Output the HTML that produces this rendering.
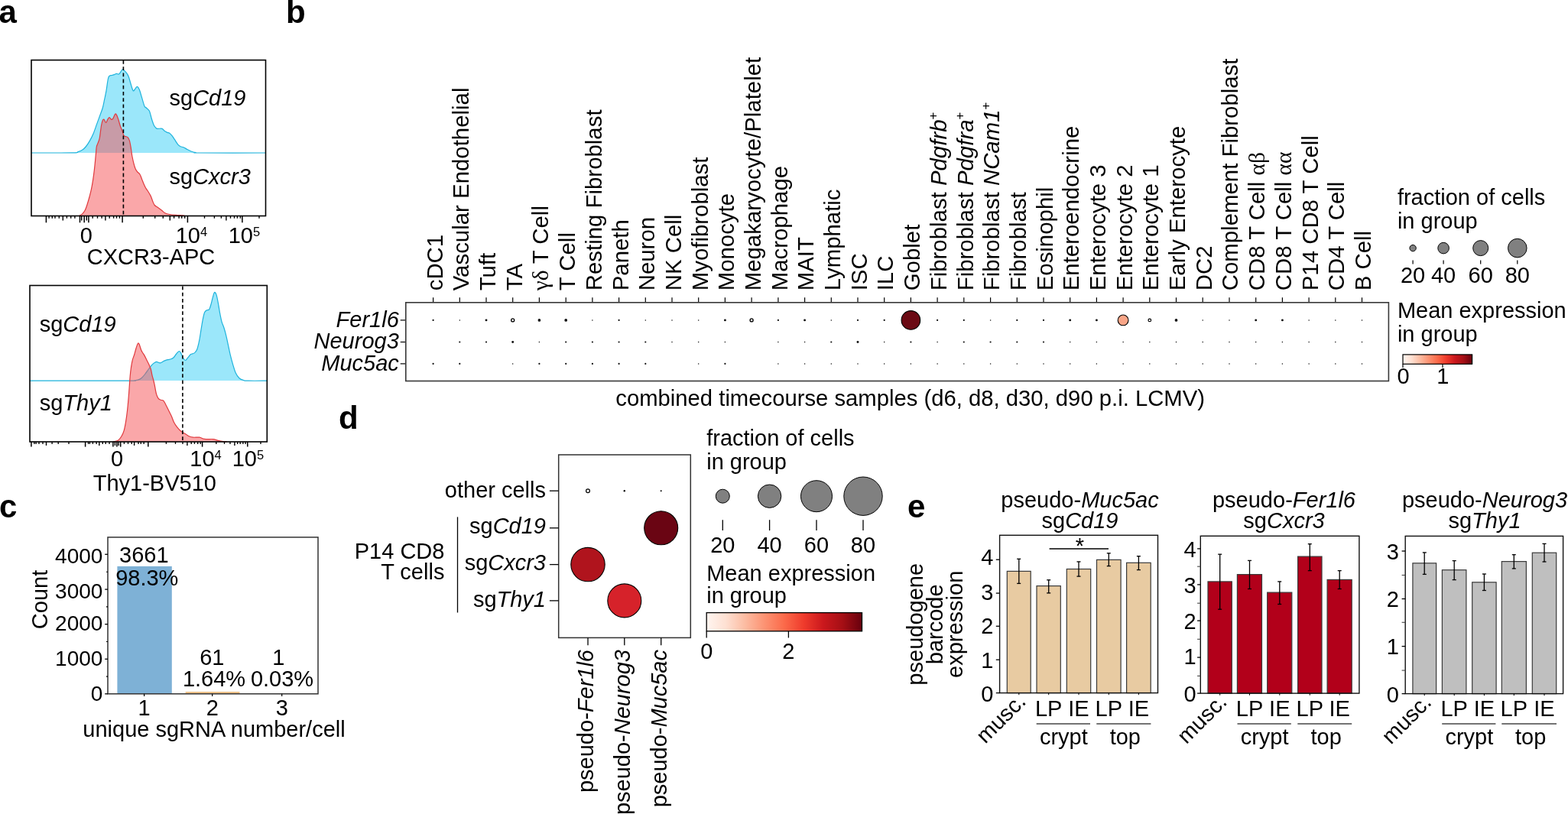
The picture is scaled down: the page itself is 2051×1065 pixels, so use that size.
<!DOCTYPE html>
<html><head><meta charset="utf-8"><title>Figure</title>
<style>
html,body{margin:0;padding:0;background:#fff;width:2051px;height:1065px;overflow:hidden}
svg{display:block}
text{font-family:"Liberation Sans",Arial,sans-serif;fill:#000}
</style></head><body>
<svg width="2051" height="1065" viewBox="0 0 2051 1065">
<rect width="2051" height="1065" fill="#fff"/>
<text x="-1.5" y="30.0" font-size="42" font-weight="bold">a</text>
<text x="374.0" y="29.6" font-size="42" font-weight="bold">b</text>
<text x="-1.0" y="677.0" font-size="42" font-weight="bold">c</text>
<text x="443.0" y="560.5" font-size="42" font-weight="bold">d</text>
<text x="1187.0" y="677.0" font-size="42" font-weight="bold">e</text>
<path d="M40.80,200.00 C49.83,199.97 84.80,200.02 95.00,199.80 C105.20,199.58 99.85,199.32 102.00,198.70 C104.15,198.08 106.13,197.30 107.90,196.10 C109.67,194.90 111.03,193.45 112.60,191.50 C114.17,189.55 115.73,187.15 117.30,184.40 C118.87,181.65 120.43,178.72 122.00,175.00 C123.57,171.28 125.13,166.40 126.70,162.10 C128.27,157.80 130.13,152.72 131.40,149.20 C132.67,145.68 133.43,144.13 134.30,141.00 C135.17,137.87 135.82,134.12 136.60,130.40 C137.38,126.68 138.22,123.18 139.00,118.70 C139.78,114.22 140.62,106.72 141.30,103.50 C141.98,100.28 142.22,100.23 143.10,99.40 C143.98,98.57 145.52,98.80 146.60,98.50 C147.68,98.20 148.62,97.95 149.60,97.60 C150.58,97.25 151.53,96.50 152.50,96.40 C153.47,96.30 154.52,97.38 155.40,97.00 C156.28,96.62 157.02,95.13 157.80,94.10 C158.58,93.07 159.32,91.10 160.10,90.80 C160.88,90.50 161.62,91.55 162.50,92.30 C163.38,93.05 164.43,93.93 165.40,95.30 C166.37,96.67 167.32,97.97 168.30,100.50 C169.28,103.03 170.32,107.47 171.30,110.50 C172.28,113.53 173.23,117.82 174.20,118.70 C175.17,119.58 176.22,116.68 177.10,115.80 C177.98,114.92 178.62,113.12 179.50,113.40 C180.38,113.68 181.43,115.25 182.40,117.50 C183.37,119.75 184.22,123.37 185.30,126.90 C186.38,130.43 187.92,136.35 188.90,138.70 C189.88,141.05 190.13,139.93 191.20,141.00 C192.27,142.07 194.08,142.60 195.30,145.10 C196.52,147.60 197.48,152.83 198.50,156.00 C199.52,159.17 200.60,162.33 201.40,164.10 C202.20,165.87 202.63,165.90 203.30,166.60 C203.97,167.30 203.93,168.02 205.40,168.30 C206.87,168.58 210.52,167.83 212.10,168.30 C213.68,168.77 213.77,170.25 214.90,171.10 C216.03,171.95 217.77,172.88 218.90,173.40 C220.03,173.92 220.67,173.50 221.70,174.20 C222.73,174.90 223.97,176.18 225.10,177.60 C226.23,179.02 227.18,180.73 228.50,182.70 C229.82,184.67 231.70,187.90 233.00,189.40 C234.30,190.90 235.13,191.13 236.30,191.70 C237.47,192.27 238.55,192.17 240.00,192.80 C241.45,193.43 243.33,194.63 245.00,195.50 C246.67,196.37 248.17,197.32 250.00,198.00 C251.83,198.68 254.00,199.27 256.00,199.60 C258.00,199.93 246.75,199.93 262.00,200.00 C277.25,200.07 333.25,200.00 347.50,200.00 L347.5,200 L40.8,200 Z" fill="#9be7fa" stroke="none"/>
<path d="M40.80,200.00 C49.83,199.97 84.80,200.02 95.00,199.80 C105.20,199.58 99.85,199.32 102.00,198.70 C104.15,198.08 106.13,197.30 107.90,196.10 C109.67,194.90 111.03,193.45 112.60,191.50 C114.17,189.55 115.73,187.15 117.30,184.40 C118.87,181.65 120.43,178.72 122.00,175.00 C123.57,171.28 125.13,166.40 126.70,162.10 C128.27,157.80 130.13,152.72 131.40,149.20 C132.67,145.68 133.43,144.13 134.30,141.00 C135.17,137.87 135.82,134.12 136.60,130.40 C137.38,126.68 138.22,123.18 139.00,118.70 C139.78,114.22 140.62,106.72 141.30,103.50 C141.98,100.28 142.22,100.23 143.10,99.40 C143.98,98.57 145.52,98.80 146.60,98.50 C147.68,98.20 148.62,97.95 149.60,97.60 C150.58,97.25 151.53,96.50 152.50,96.40 C153.47,96.30 154.52,97.38 155.40,97.00 C156.28,96.62 157.02,95.13 157.80,94.10 C158.58,93.07 159.32,91.10 160.10,90.80 C160.88,90.50 161.62,91.55 162.50,92.30 C163.38,93.05 164.43,93.93 165.40,95.30 C166.37,96.67 167.32,97.97 168.30,100.50 C169.28,103.03 170.32,107.47 171.30,110.50 C172.28,113.53 173.23,117.82 174.20,118.70 C175.17,119.58 176.22,116.68 177.10,115.80 C177.98,114.92 178.62,113.12 179.50,113.40 C180.38,113.68 181.43,115.25 182.40,117.50 C183.37,119.75 184.22,123.37 185.30,126.90 C186.38,130.43 187.92,136.35 188.90,138.70 C189.88,141.05 190.13,139.93 191.20,141.00 C192.27,142.07 194.08,142.60 195.30,145.10 C196.52,147.60 197.48,152.83 198.50,156.00 C199.52,159.17 200.60,162.33 201.40,164.10 C202.20,165.87 202.63,165.90 203.30,166.60 C203.97,167.30 203.93,168.02 205.40,168.30 C206.87,168.58 210.52,167.83 212.10,168.30 C213.68,168.77 213.77,170.25 214.90,171.10 C216.03,171.95 217.77,172.88 218.90,173.40 C220.03,173.92 220.67,173.50 221.70,174.20 C222.73,174.90 223.97,176.18 225.10,177.60 C226.23,179.02 227.18,180.73 228.50,182.70 C229.82,184.67 231.70,187.90 233.00,189.40 C234.30,190.90 235.13,191.13 236.30,191.70 C237.47,192.27 238.55,192.17 240.00,192.80 C241.45,193.43 243.33,194.63 245.00,195.50 C246.67,196.37 248.17,197.32 250.00,198.00 C251.83,198.68 254.00,199.27 256.00,199.60 C258.00,199.93 246.75,199.93 262.00,200.00 C277.25,200.07 333.25,200.00 347.50,200.00" fill="none" stroke="#1fb3dc" stroke-width="1.2" stroke-linejoin="round"/>
<path d="M103.50,282.50 C104.20,282.07 106.43,281.10 107.70,279.90 C108.97,278.70 110.05,277.33 111.10,275.30 C112.15,273.27 113.02,270.67 114.00,267.70 C114.98,264.73 116.08,260.88 117.00,257.50 C117.92,254.12 118.73,251.05 119.50,247.40 C120.27,243.75 120.97,239.68 121.60,235.60 C122.23,231.52 122.80,227.13 123.30,222.90 C123.80,218.67 124.22,214.15 124.60,210.20 C124.98,206.25 125.32,202.23 125.60,199.20 C125.88,196.17 125.93,193.88 126.30,192.00 C126.67,190.12 127.15,189.75 127.80,187.90 C128.45,186.05 129.42,184.80 130.20,180.90 C130.98,177.00 131.82,168.42 132.50,164.50 C133.18,160.58 133.70,158.77 134.30,157.40 C134.90,156.03 135.38,155.80 136.10,156.30 C136.82,156.80 137.82,160.40 138.60,160.40 C139.38,160.40 140.05,157.42 140.80,156.30 C141.55,155.18 142.28,153.70 143.10,153.70 C143.92,153.70 144.92,156.07 145.70,156.30 C146.48,156.53 146.97,156.28 147.80,155.10 C148.63,153.92 149.92,149.98 150.70,149.20 C151.48,148.42 151.82,149.22 152.50,150.40 C153.18,151.58 154.02,153.95 154.80,156.30 C155.58,158.65 156.32,161.97 157.20,164.50 C158.08,167.03 159.32,169.35 160.10,171.50 C160.88,173.65 161.22,176.23 161.90,177.40 C162.58,178.57 163.33,178.12 164.20,178.50 C165.07,178.88 166.22,178.72 167.10,179.70 C167.98,180.68 168.77,181.85 169.50,184.40 C170.23,186.95 170.97,191.82 171.50,195.00 C172.03,198.18 172.13,200.40 172.70,203.50 C173.27,206.60 174.18,210.78 174.90,213.60 C175.62,216.42 176.23,218.57 177.00,220.40 C177.77,222.23 178.52,223.33 179.50,224.60 C180.48,225.87 181.92,226.45 182.90,228.00 C183.88,229.55 184.55,231.80 185.40,233.90 C186.25,236.00 187.15,238.63 188.00,240.60 C188.85,242.57 189.52,244.00 190.50,245.70 C191.48,247.40 192.77,248.97 193.90,250.80 C195.03,252.63 196.32,254.58 197.30,256.70 C198.28,258.82 198.97,261.53 199.80,263.50 C200.63,265.47 201.17,267.17 202.30,268.50 C203.43,269.83 205.05,270.37 206.60,271.50 C208.15,272.63 210.07,274.10 211.60,275.30 C213.13,276.50 214.10,277.83 215.80,278.70 C217.50,279.57 219.40,280.05 221.80,280.50 C224.20,280.95 227.38,281.17 230.20,281.40 C233.02,281.63 236.73,281.72 238.70,281.90 C240.67,282.08 241.45,282.40 242.00,282.50 L242.0,282.5 L103.5,282.5 Z" fill="rgba(245,80,84,0.5)" stroke="none"/>
<path d="M103.50,282.50 C104.20,282.07 106.43,281.10 107.70,279.90 C108.97,278.70 110.05,277.33 111.10,275.30 C112.15,273.27 113.02,270.67 114.00,267.70 C114.98,264.73 116.08,260.88 117.00,257.50 C117.92,254.12 118.73,251.05 119.50,247.40 C120.27,243.75 120.97,239.68 121.60,235.60 C122.23,231.52 122.80,227.13 123.30,222.90 C123.80,218.67 124.22,214.15 124.60,210.20 C124.98,206.25 125.32,202.23 125.60,199.20 C125.88,196.17 125.93,193.88 126.30,192.00 C126.67,190.12 127.15,189.75 127.80,187.90 C128.45,186.05 129.42,184.80 130.20,180.90 C130.98,177.00 131.82,168.42 132.50,164.50 C133.18,160.58 133.70,158.77 134.30,157.40 C134.90,156.03 135.38,155.80 136.10,156.30 C136.82,156.80 137.82,160.40 138.60,160.40 C139.38,160.40 140.05,157.42 140.80,156.30 C141.55,155.18 142.28,153.70 143.10,153.70 C143.92,153.70 144.92,156.07 145.70,156.30 C146.48,156.53 146.97,156.28 147.80,155.10 C148.63,153.92 149.92,149.98 150.70,149.20 C151.48,148.42 151.82,149.22 152.50,150.40 C153.18,151.58 154.02,153.95 154.80,156.30 C155.58,158.65 156.32,161.97 157.20,164.50 C158.08,167.03 159.32,169.35 160.10,171.50 C160.88,173.65 161.22,176.23 161.90,177.40 C162.58,178.57 163.33,178.12 164.20,178.50 C165.07,178.88 166.22,178.72 167.10,179.70 C167.98,180.68 168.77,181.85 169.50,184.40 C170.23,186.95 170.97,191.82 171.50,195.00 C172.03,198.18 172.13,200.40 172.70,203.50 C173.27,206.60 174.18,210.78 174.90,213.60 C175.62,216.42 176.23,218.57 177.00,220.40 C177.77,222.23 178.52,223.33 179.50,224.60 C180.48,225.87 181.92,226.45 182.90,228.00 C183.88,229.55 184.55,231.80 185.40,233.90 C186.25,236.00 187.15,238.63 188.00,240.60 C188.85,242.57 189.52,244.00 190.50,245.70 C191.48,247.40 192.77,248.97 193.90,250.80 C195.03,252.63 196.32,254.58 197.30,256.70 C198.28,258.82 198.97,261.53 199.80,263.50 C200.63,265.47 201.17,267.17 202.30,268.50 C203.43,269.83 205.05,270.37 206.60,271.50 C208.15,272.63 210.07,274.10 211.60,275.30 C213.13,276.50 214.10,277.83 215.80,278.70 C217.50,279.57 219.40,280.05 221.80,280.50 C224.20,280.95 227.38,281.17 230.20,281.40 C233.02,281.63 236.73,281.72 238.70,281.90 C240.67,282.08 241.45,282.40 242.00,282.50" fill="none" stroke="#e03a3e" stroke-width="1.2" stroke-linejoin="round"/>
<line x1="161.4" y1="79.0" x2="161.4" y2="282.5" stroke="#000" stroke-width="1.6" stroke-dasharray="4.8,3.4"/>
<rect x="41.0" y="78.6" width="306.5" height="203.9" fill="none" stroke="#000" stroke-width="1.6" />
<text x="221.5" y="137.5" font-size="29">sg<tspan font-style="italic">Cd19</tspan></text>
<text x="221.5" y="241.3" font-size="29">sg<tspan font-style="italic">Cxcr3</tspan></text>
<line x1="60.4" y1="282.5" x2="60.4" y2="291.3" stroke="#000" stroke-width="1.5" />
<line x1="104.5" y1="282.5" x2="104.5" y2="291.3" stroke="#000" stroke-width="1.5" />
<line x1="110.2" y1="282.5" x2="110.2" y2="291.3" stroke="#000" stroke-width="1.5" />
<line x1="115.9" y1="282.5" x2="115.9" y2="291.3" stroke="#000" stroke-width="1.5" />
<line x1="160.1" y1="282.5" x2="160.1" y2="291.3" stroke="#000" stroke-width="1.5" />
<line x1="245.4" y1="282.5" x2="245.4" y2="291.3" stroke="#000" stroke-width="1.5" />
<line x1="316.9" y1="282.5" x2="316.9" y2="291.3" stroke="#000" stroke-width="1.5" />
<line x1="82.3" y1="282.5" x2="82.3" y2="288.5" stroke="#000" stroke-width="1.4" />
<line x1="106.7" y1="282.5" x2="106.7" y2="288.5" stroke="#000" stroke-width="1.4" />
<line x1="113.3" y1="282.5" x2="113.3" y2="288.5" stroke="#000" stroke-width="1.4" />
<line x1="137.9" y1="282.5" x2="137.9" y2="288.5" stroke="#000" stroke-width="1.4" />
<line x1="222.3" y1="282.5" x2="222.3" y2="288.5" stroke="#000" stroke-width="1.4" />
<line x1="295.9" y1="282.5" x2="295.9" y2="288.5" stroke="#000" stroke-width="1.4" />
<line x1="64.1" y1="282.5" x2="64.1" y2="285.7" stroke="#000" stroke-width="1.4" />
<line x1="68.3" y1="282.5" x2="68.3" y2="285.7" stroke="#000" stroke-width="1.4" />
<line x1="72.0" y1="282.5" x2="72.0" y2="285.7" stroke="#000" stroke-width="1.4" />
<line x1="77.3" y1="282.5" x2="77.3" y2="285.7" stroke="#000" stroke-width="1.4" />
<line x1="87.4" y1="282.5" x2="87.4" y2="285.7" stroke="#000" stroke-width="1.4" />
<line x1="92.7" y1="282.5" x2="92.7" y2="285.7" stroke="#000" stroke-width="1.4" />
<line x1="97.9" y1="282.5" x2="97.9" y2="285.7" stroke="#000" stroke-width="1.4" />
<line x1="121.2" y1="282.5" x2="121.2" y2="285.7" stroke="#000" stroke-width="1.4" />
<line x1="127.5" y1="282.5" x2="127.5" y2="285.7" stroke="#000" stroke-width="1.4" />
<line x1="133.1" y1="282.5" x2="133.1" y2="285.7" stroke="#000" stroke-width="1.4" />
<line x1="143.2" y1="282.5" x2="143.2" y2="285.7" stroke="#000" stroke-width="1.4" />
<line x1="148.6" y1="282.5" x2="148.6" y2="285.7" stroke="#000" stroke-width="1.4" />
<line x1="152.5" y1="282.5" x2="152.5" y2="285.7" stroke="#000" stroke-width="1.4" />
<line x1="156.4" y1="282.5" x2="156.4" y2="285.7" stroke="#000" stroke-width="1.4" />
<line x1="187.3" y1="282.5" x2="187.3" y2="285.7" stroke="#000" stroke-width="1.4" />
<line x1="202.7" y1="282.5" x2="202.7" y2="285.7" stroke="#000" stroke-width="1.4" />
<line x1="213.3" y1="282.5" x2="213.3" y2="285.7" stroke="#000" stroke-width="1.4" />
<line x1="227.6" y1="282.5" x2="227.6" y2="285.7" stroke="#000" stroke-width="1.4" />
<line x1="234.1" y1="282.5" x2="234.1" y2="285.7" stroke="#000" stroke-width="1.4" />
<line x1="237.7" y1="282.5" x2="237.7" y2="285.7" stroke="#000" stroke-width="1.4" />
<line x1="241.7" y1="282.5" x2="241.7" y2="285.7" stroke="#000" stroke-width="1.4" />
<line x1="267.5" y1="282.5" x2="267.5" y2="285.7" stroke="#000" stroke-width="1.4" />
<line x1="280.4" y1="282.5" x2="280.4" y2="285.7" stroke="#000" stroke-width="1.4" />
<line x1="289.4" y1="282.5" x2="289.4" y2="285.7" stroke="#000" stroke-width="1.4" />
<line x1="301.5" y1="282.5" x2="301.5" y2="285.7" stroke="#000" stroke-width="1.4" />
<line x1="306.5" y1="282.5" x2="306.5" y2="285.7" stroke="#000" stroke-width="1.4" />
<line x1="310.4" y1="282.5" x2="310.4" y2="285.7" stroke="#000" stroke-width="1.4" />
<line x1="314.4" y1="282.5" x2="314.4" y2="285.7" stroke="#000" stroke-width="1.4" />
<line x1="339.0" y1="282.5" x2="339.0" y2="285.7" stroke="#000" stroke-width="1.4" />
<text x="112.9" y="317.5" font-size="29" text-anchor="middle">0</text>
<text x="229.7" y="317.5" font-size="29">10<tspan font-size="16.5" dy="-8.8">4</tspan></text>
<text x="298.7" y="317.5" font-size="29">10<tspan font-size="16.5" dy="-8.8">5</tspan></text>
<text x="113.7" y="345.6" font-size="29">CXCR3-APC</text>
<path d="M38.60,498.20 C59.67,498.20 142.37,498.23 165.00,498.20 C187.63,498.17 171.85,498.18 174.40,498.00 C176.95,497.82 178.53,497.65 180.30,497.10 C182.07,496.55 183.43,495.97 185.00,494.70 C186.57,493.43 188.15,491.45 189.70,489.50 C191.25,487.55 192.75,485.07 194.30,483.00 C195.85,480.93 197.62,478.57 199.00,477.10 C200.38,475.63 201.62,474.82 202.60,474.20 C203.58,473.58 203.73,473.30 204.90,473.40 C206.07,473.50 208.03,474.97 209.60,474.80 C211.17,474.63 212.73,473.08 214.30,472.40 C215.87,471.72 217.43,471.13 219.00,470.70 C220.57,470.27 222.33,470.30 223.70,469.80 C225.07,469.30 226.03,468.83 227.20,467.70 C228.37,466.57 229.52,464.37 230.70,463.00 C231.88,461.63 233.32,459.68 234.30,459.50 C235.28,459.32 235.73,460.43 236.60,461.90 C237.47,463.37 238.52,466.70 239.50,468.30 C240.48,469.90 241.42,471.60 242.50,471.50 C243.58,471.40 244.83,469.02 246.00,467.70 C247.17,466.38 248.13,464.57 249.50,463.60 C250.87,462.63 252.83,462.97 254.20,461.90 C255.57,460.83 256.62,459.95 257.70,457.20 C258.78,454.45 259.82,449.72 260.70,445.40 C261.58,441.08 262.22,435.98 263.00,431.30 C263.78,426.62 264.62,421.10 265.40,417.30 C266.18,413.50 266.83,410.42 267.70,408.50 C268.57,406.58 269.62,406.40 270.60,405.80 C271.58,405.20 272.72,406.12 273.60,404.90 C274.48,403.68 275.12,401.13 275.90,398.50 C276.68,395.87 277.52,391.75 278.30,389.10 C279.08,386.45 279.82,383.18 280.60,382.60 C281.38,382.02 282.22,383.35 283.00,385.60 C283.78,387.85 284.52,392.00 285.30,396.10 C286.08,400.20 286.92,406.08 287.70,410.20 C288.48,414.32 289.12,417.67 290.00,420.80 C290.88,423.93 292.12,426.27 293.00,429.00 C293.88,431.73 294.43,433.68 295.30,437.20 C296.17,440.72 297.22,445.60 298.20,450.10 C299.18,454.60 300.12,459.70 301.20,464.20 C302.28,468.70 303.53,473.18 304.70,477.10 C305.87,481.02 306.83,484.77 308.20,487.70 C309.57,490.63 311.13,493.03 312.90,494.70 C314.67,496.37 316.78,497.12 318.80,497.70 C320.82,498.28 319.92,498.12 325.00,498.20 C330.08,498.28 345.25,498.20 349.30,498.20 L349.3,498 L38.6,498 Z" fill="#9be7fa" stroke="none"/>
<path d="M38.60,498.20 C59.67,498.20 142.37,498.23 165.00,498.20 C187.63,498.17 171.85,498.18 174.40,498.00 C176.95,497.82 178.53,497.65 180.30,497.10 C182.07,496.55 183.43,495.97 185.00,494.70 C186.57,493.43 188.15,491.45 189.70,489.50 C191.25,487.55 192.75,485.07 194.30,483.00 C195.85,480.93 197.62,478.57 199.00,477.10 C200.38,475.63 201.62,474.82 202.60,474.20 C203.58,473.58 203.73,473.30 204.90,473.40 C206.07,473.50 208.03,474.97 209.60,474.80 C211.17,474.63 212.73,473.08 214.30,472.40 C215.87,471.72 217.43,471.13 219.00,470.70 C220.57,470.27 222.33,470.30 223.70,469.80 C225.07,469.30 226.03,468.83 227.20,467.70 C228.37,466.57 229.52,464.37 230.70,463.00 C231.88,461.63 233.32,459.68 234.30,459.50 C235.28,459.32 235.73,460.43 236.60,461.90 C237.47,463.37 238.52,466.70 239.50,468.30 C240.48,469.90 241.42,471.60 242.50,471.50 C243.58,471.40 244.83,469.02 246.00,467.70 C247.17,466.38 248.13,464.57 249.50,463.60 C250.87,462.63 252.83,462.97 254.20,461.90 C255.57,460.83 256.62,459.95 257.70,457.20 C258.78,454.45 259.82,449.72 260.70,445.40 C261.58,441.08 262.22,435.98 263.00,431.30 C263.78,426.62 264.62,421.10 265.40,417.30 C266.18,413.50 266.83,410.42 267.70,408.50 C268.57,406.58 269.62,406.40 270.60,405.80 C271.58,405.20 272.72,406.12 273.60,404.90 C274.48,403.68 275.12,401.13 275.90,398.50 C276.68,395.87 277.52,391.75 278.30,389.10 C279.08,386.45 279.82,383.18 280.60,382.60 C281.38,382.02 282.22,383.35 283.00,385.60 C283.78,387.85 284.52,392.00 285.30,396.10 C286.08,400.20 286.92,406.08 287.70,410.20 C288.48,414.32 289.12,417.67 290.00,420.80 C290.88,423.93 292.12,426.27 293.00,429.00 C293.88,431.73 294.43,433.68 295.30,437.20 C296.17,440.72 297.22,445.60 298.20,450.10 C299.18,454.60 300.12,459.70 301.20,464.20 C302.28,468.70 303.53,473.18 304.70,477.10 C305.87,481.02 306.83,484.77 308.20,487.70 C309.57,490.63 311.13,493.03 312.90,494.70 C314.67,496.37 316.78,497.12 318.80,497.70 C320.82,498.28 319.92,498.12 325.00,498.20 C330.08,498.28 345.25,498.20 349.30,498.20" fill="none" stroke="#1fb3dc" stroke-width="1.2" stroke-linejoin="round"/>
<path d="M148.00,578.00 C148.30,577.92 148.68,577.85 149.80,577.50 C150.92,577.15 153.20,576.98 154.70,575.90 C156.20,574.82 157.57,573.05 158.80,571.00 C160.03,568.95 161.15,566.73 162.10,563.60 C163.05,560.47 163.77,556.55 164.50,552.20 C165.23,547.85 165.88,542.95 166.50,537.50 C167.12,532.05 167.72,525.22 168.20,519.50 C168.68,513.78 169.07,507.78 169.40,503.20 C169.73,498.62 169.85,495.77 170.20,492.00 C170.55,488.23 171.00,484.05 171.50,480.60 C172.00,477.15 172.52,474.03 173.20,471.30 C173.88,468.57 174.82,466.75 175.60,464.20 C176.38,461.65 177.12,458.45 177.90,456.00 C178.68,453.55 179.62,450.48 180.30,449.50 C180.98,448.52 181.32,448.82 182.00,450.10 C182.68,451.38 183.72,455.43 184.40,457.20 C185.08,458.97 185.32,459.33 186.10,460.70 C186.88,462.07 188.12,463.63 189.10,465.40 C190.08,467.17 191.03,469.35 192.00,471.30 C192.97,473.25 194.02,475.15 194.90,477.10 C195.78,479.05 196.62,480.65 197.30,483.00 C197.98,485.35 198.48,489.03 199.00,491.20 C199.52,493.37 199.88,494.00 200.40,496.00 C200.92,498.00 201.42,499.97 202.10,503.20 C202.78,506.43 203.68,512.42 204.50,515.40 C205.32,518.38 206.05,519.80 207.00,521.10 C207.95,522.40 209.12,522.72 210.20,523.20 C211.28,523.68 212.53,523.25 213.50,524.00 C214.47,524.75 214.92,525.73 216.00,527.70 C217.08,529.67 218.65,533.08 220.00,535.80 C221.35,538.52 222.87,541.27 224.10,544.00 C225.33,546.73 226.17,549.75 227.40,552.20 C228.63,554.65 230.13,556.87 231.50,558.70 C232.87,560.53 234.25,561.97 235.60,563.20 C236.95,564.43 238.25,565.22 239.60,566.10 C240.95,566.98 242.33,567.68 243.70,568.50 C245.07,569.32 246.30,570.38 247.80,571.00 C249.30,571.62 250.52,572.00 252.70,572.20 C254.88,572.40 258.72,571.87 260.90,572.20 C263.08,572.53 264.17,573.80 265.80,574.20 C267.43,574.60 268.53,574.53 270.70,574.60 C272.87,574.67 276.35,574.32 278.80,574.60 C281.25,574.88 283.22,575.82 285.40,576.30 C287.58,576.78 290.00,577.22 291.90,577.50 C293.80,577.78 295.98,577.92 296.80,578.00 L296.8,578 L148.0,578 Z" fill="rgba(245,80,84,0.5)" stroke="none"/>
<path d="M148.00,578.00 C148.30,577.92 148.68,577.85 149.80,577.50 C150.92,577.15 153.20,576.98 154.70,575.90 C156.20,574.82 157.57,573.05 158.80,571.00 C160.03,568.95 161.15,566.73 162.10,563.60 C163.05,560.47 163.77,556.55 164.50,552.20 C165.23,547.85 165.88,542.95 166.50,537.50 C167.12,532.05 167.72,525.22 168.20,519.50 C168.68,513.78 169.07,507.78 169.40,503.20 C169.73,498.62 169.85,495.77 170.20,492.00 C170.55,488.23 171.00,484.05 171.50,480.60 C172.00,477.15 172.52,474.03 173.20,471.30 C173.88,468.57 174.82,466.75 175.60,464.20 C176.38,461.65 177.12,458.45 177.90,456.00 C178.68,453.55 179.62,450.48 180.30,449.50 C180.98,448.52 181.32,448.82 182.00,450.10 C182.68,451.38 183.72,455.43 184.40,457.20 C185.08,458.97 185.32,459.33 186.10,460.70 C186.88,462.07 188.12,463.63 189.10,465.40 C190.08,467.17 191.03,469.35 192.00,471.30 C192.97,473.25 194.02,475.15 194.90,477.10 C195.78,479.05 196.62,480.65 197.30,483.00 C197.98,485.35 198.48,489.03 199.00,491.20 C199.52,493.37 199.88,494.00 200.40,496.00 C200.92,498.00 201.42,499.97 202.10,503.20 C202.78,506.43 203.68,512.42 204.50,515.40 C205.32,518.38 206.05,519.80 207.00,521.10 C207.95,522.40 209.12,522.72 210.20,523.20 C211.28,523.68 212.53,523.25 213.50,524.00 C214.47,524.75 214.92,525.73 216.00,527.70 C217.08,529.67 218.65,533.08 220.00,535.80 C221.35,538.52 222.87,541.27 224.10,544.00 C225.33,546.73 226.17,549.75 227.40,552.20 C228.63,554.65 230.13,556.87 231.50,558.70 C232.87,560.53 234.25,561.97 235.60,563.20 C236.95,564.43 238.25,565.22 239.60,566.10 C240.95,566.98 242.33,567.68 243.70,568.50 C245.07,569.32 246.30,570.38 247.80,571.00 C249.30,571.62 250.52,572.00 252.70,572.20 C254.88,572.40 258.72,571.87 260.90,572.20 C263.08,572.53 264.17,573.80 265.80,574.20 C267.43,574.60 268.53,574.53 270.70,574.60 C272.87,574.67 276.35,574.32 278.80,574.60 C281.25,574.88 283.22,575.82 285.40,576.30 C287.58,576.78 290.00,577.22 291.90,577.50 C293.80,577.78 295.98,577.92 296.80,578.00" fill="none" stroke="#e03a3e" stroke-width="1.2" stroke-linejoin="round"/>
<line x1="238.9" y1="374.5" x2="238.9" y2="577.7" stroke="#000" stroke-width="1.6" stroke-dasharray="4.8,3.4"/>
<rect x="39.0" y="373.5" width="310.3" height="204.5" fill="none" stroke="#000" stroke-width="1.6" />
<text x="51.7" y="434.0" font-size="29">sg<tspan font-style="italic">Cd19</tspan></text>
<text x="51.7" y="536.7" font-size="29">sg<tspan font-style="italic">Thy1</tspan></text>
<line x1="40.9" y1="578.0" x2="40.9" y2="584.6" stroke="#000" stroke-width="1.5" />
<line x1="111.6" y1="578.0" x2="111.6" y2="584.6" stroke="#000" stroke-width="1.5" />
<line x1="147.9" y1="578.0" x2="147.9" y2="584.6" stroke="#000" stroke-width="1.5" />
<line x1="152.9" y1="578.0" x2="152.9" y2="584.6" stroke="#000" stroke-width="1.5" />
<line x1="157.7" y1="578.0" x2="157.7" y2="584.6" stroke="#000" stroke-width="1.5" />
<line x1="193.8" y1="578.0" x2="193.8" y2="584.6" stroke="#000" stroke-width="1.5" />
<line x1="264.6" y1="578.0" x2="264.6" y2="584.6" stroke="#000" stroke-width="1.5" />
<line x1="323.8" y1="578.0" x2="323.8" y2="584.6" stroke="#000" stroke-width="1.5" />
<line x1="60.5" y1="578.0" x2="60.5" y2="582.9" stroke="#000" stroke-width="1.4" />
<line x1="129.8" y1="578.0" x2="129.8" y2="582.9" stroke="#000" stroke-width="1.4" />
<line x1="150.4" y1="578.0" x2="150.4" y2="582.9" stroke="#000" stroke-width="1.4" />
<line x1="155.1" y1="578.0" x2="155.1" y2="582.9" stroke="#000" stroke-width="1.4" />
<line x1="175.6" y1="578.0" x2="175.6" y2="582.9" stroke="#000" stroke-width="1.4" />
<line x1="244.9" y1="578.0" x2="244.9" y2="582.9" stroke="#000" stroke-width="1.4" />
<line x1="306.9" y1="578.0" x2="306.9" y2="582.9" stroke="#000" stroke-width="1.4" />
<line x1="44.8" y1="578.0" x2="44.8" y2="580.9" stroke="#000" stroke-width="1.4" />
<line x1="47.1" y1="578.0" x2="47.1" y2="580.9" stroke="#000" stroke-width="1.4" />
<line x1="51.0" y1="578.0" x2="51.0" y2="580.9" stroke="#000" stroke-width="1.4" />
<line x1="56.0" y1="578.0" x2="56.0" y2="580.9" stroke="#000" stroke-width="1.4" />
<line x1="68.1" y1="578.0" x2="68.1" y2="580.9" stroke="#000" stroke-width="1.4" />
<line x1="76.2" y1="578.0" x2="76.2" y2="580.9" stroke="#000" stroke-width="1.4" />
<line x1="90.0" y1="578.0" x2="90.0" y2="580.9" stroke="#000" stroke-width="1.4" />
<line x1="115.5" y1="578.0" x2="115.5" y2="580.9" stroke="#000" stroke-width="1.4" />
<line x1="117.4" y1="578.0" x2="117.4" y2="580.9" stroke="#000" stroke-width="1.4" />
<line x1="121.4" y1="578.0" x2="121.4" y2="580.9" stroke="#000" stroke-width="1.4" />
<line x1="126.1" y1="578.0" x2="126.1" y2="580.9" stroke="#000" stroke-width="1.4" />
<line x1="134.3" y1="578.0" x2="134.3" y2="580.9" stroke="#000" stroke-width="1.4" />
<line x1="138.2" y1="578.0" x2="138.2" y2="580.9" stroke="#000" stroke-width="1.4" />
<line x1="143.0" y1="578.0" x2="143.0" y2="580.9" stroke="#000" stroke-width="1.4" />
<line x1="162.4" y1="578.0" x2="162.4" y2="580.9" stroke="#000" stroke-width="1.4" />
<line x1="167.5" y1="578.0" x2="167.5" y2="580.9" stroke="#000" stroke-width="1.4" />
<line x1="172.2" y1="578.0" x2="172.2" y2="580.9" stroke="#000" stroke-width="1.4" />
<line x1="181.0" y1="578.0" x2="181.0" y2="580.9" stroke="#000" stroke-width="1.4" />
<line x1="184.3" y1="578.0" x2="184.3" y2="580.9" stroke="#000" stroke-width="1.4" />
<line x1="188.2" y1="578.0" x2="188.2" y2="580.9" stroke="#000" stroke-width="1.4" />
<line x1="217.4" y1="578.0" x2="217.4" y2="580.9" stroke="#000" stroke-width="1.4" />
<line x1="229.5" y1="578.0" x2="229.5" y2="580.9" stroke="#000" stroke-width="1.4" />
<line x1="239.0" y1="578.0" x2="239.0" y2="580.9" stroke="#000" stroke-width="1.4" />
<line x1="250.2" y1="578.0" x2="250.2" y2="580.9" stroke="#000" stroke-width="1.4" />
<line x1="254.4" y1="578.0" x2="254.4" y2="580.9" stroke="#000" stroke-width="1.4" />
<line x1="258.7" y1="578.0" x2="258.7" y2="580.9" stroke="#000" stroke-width="1.4" />
<line x1="262.2" y1="578.0" x2="262.2" y2="580.9" stroke="#000" stroke-width="1.4" />
<line x1="282.8" y1="578.0" x2="282.8" y2="580.9" stroke="#000" stroke-width="1.4" />
<line x1="293.5" y1="578.0" x2="293.5" y2="580.9" stroke="#000" stroke-width="1.4" />
<line x1="301.0" y1="578.0" x2="301.0" y2="580.9" stroke="#000" stroke-width="1.4" />
<line x1="310.7" y1="578.0" x2="310.7" y2="580.9" stroke="#000" stroke-width="1.4" />
<line x1="314.2" y1="578.0" x2="314.2" y2="580.9" stroke="#000" stroke-width="1.4" />
<line x1="317.9" y1="578.0" x2="317.9" y2="580.9" stroke="#000" stroke-width="1.4" />
<line x1="321.1" y1="578.0" x2="321.1" y2="580.9" stroke="#000" stroke-width="1.4" />
<line x1="341.0" y1="578.0" x2="341.0" y2="580.9" stroke="#000" stroke-width="1.4" />
<text x="153.1" y="609.9" font-size="29" text-anchor="middle">0</text>
<text x="248.3" y="609.9" font-size="29">10<tspan font-size="16.5" dy="-8.8">4</tspan></text>
<text x="303.7" y="609.9" font-size="29">10<tspan font-size="16.5" dy="-8.8">5</tspan></text>
<text x="121.7" y="642.3" font-size="29">Thy1-BV510</text>
<line x1="566.6" y1="389.3" x2="566.6" y2="395.8" stroke="#000" stroke-width="1.2" />
<text transform="translate(578.6,380.3) rotate(-90)" font-size="29.4">cDC1</text>
<line x1="601.3" y1="389.3" x2="601.3" y2="395.8" stroke="#000" stroke-width="1.2" />
<text transform="translate(613.3,380.3) rotate(-90)" font-size="29.4">Vascular Endothelial</text>
<line x1="636.0" y1="389.3" x2="636.0" y2="395.8" stroke="#000" stroke-width="1.2" />
<text transform="translate(648.0,380.3) rotate(-90)" font-size="29.4">Tuft</text>
<line x1="670.7" y1="389.3" x2="670.7" y2="395.8" stroke="#000" stroke-width="1.2" />
<text transform="translate(682.7,380.3) rotate(-90)" font-size="29.4">TA</text>
<line x1="705.4" y1="389.3" x2="705.4" y2="395.8" stroke="#000" stroke-width="1.2" />
<text transform="translate(717.4,380.3) rotate(-90)" font-size="29.4"><tspan font-family="Liberation Serif, serif">γδ</tspan> T Cell</text>
<line x1="740.2" y1="389.3" x2="740.2" y2="395.8" stroke="#000" stroke-width="1.2" />
<text transform="translate(752.1,380.3) rotate(-90)" font-size="29.4">T Cell</text>
<line x1="774.9" y1="389.3" x2="774.9" y2="395.8" stroke="#000" stroke-width="1.2" />
<text transform="translate(786.8,380.3) rotate(-90)" font-size="29.4">Resting Fibroblast</text>
<line x1="809.6" y1="389.3" x2="809.6" y2="395.8" stroke="#000" stroke-width="1.2" />
<text transform="translate(821.5,380.3) rotate(-90)" font-size="29.4">Paneth</text>
<line x1="844.3" y1="389.3" x2="844.3" y2="395.8" stroke="#000" stroke-width="1.2" />
<text transform="translate(856.2,380.3) rotate(-90)" font-size="29.4">Neuron</text>
<line x1="879.0" y1="389.3" x2="879.0" y2="395.8" stroke="#000" stroke-width="1.2" />
<text transform="translate(890.9,380.3) rotate(-90)" font-size="29.4">NK Cell</text>
<line x1="913.7" y1="389.3" x2="913.7" y2="395.8" stroke="#000" stroke-width="1.2" />
<text transform="translate(925.5,380.3) rotate(-90)" font-size="29.4">Myofibroblast</text>
<line x1="948.4" y1="389.3" x2="948.4" y2="395.8" stroke="#000" stroke-width="1.2" />
<text transform="translate(960.2,380.3) rotate(-90)" font-size="29.4">Monocyte</text>
<line x1="983.1" y1="389.3" x2="983.1" y2="395.8" stroke="#000" stroke-width="1.2" />
<text transform="translate(994.9,380.3) rotate(-90)" font-size="29.4">Megakaryocyte/Platelet</text>
<line x1="1017.9" y1="389.3" x2="1017.9" y2="395.8" stroke="#000" stroke-width="1.2" />
<text transform="translate(1029.6,380.3) rotate(-90)" font-size="29.4">Macrophage</text>
<line x1="1052.6" y1="389.3" x2="1052.6" y2="395.8" stroke="#000" stroke-width="1.2" />
<text transform="translate(1064.3,380.3) rotate(-90)" font-size="29.4">MAIT</text>
<line x1="1087.3" y1="389.3" x2="1087.3" y2="395.8" stroke="#000" stroke-width="1.2" />
<text transform="translate(1099.0,380.3) rotate(-90)" font-size="29.4">Lymphatic</text>
<line x1="1122.0" y1="389.3" x2="1122.0" y2="395.8" stroke="#000" stroke-width="1.2" />
<text transform="translate(1133.7,380.3) rotate(-90)" font-size="29.4">ISC</text>
<line x1="1156.7" y1="389.3" x2="1156.7" y2="395.8" stroke="#000" stroke-width="1.2" />
<text transform="translate(1168.4,380.3) rotate(-90)" font-size="29.4">ILC</text>
<line x1="1191.4" y1="389.3" x2="1191.4" y2="395.8" stroke="#000" stroke-width="1.2" />
<text transform="translate(1203.1,380.3) rotate(-90)" font-size="29.4">Goblet</text>
<line x1="1226.1" y1="389.3" x2="1226.1" y2="395.8" stroke="#000" stroke-width="1.2" />
<text transform="translate(1237.8,380.3) rotate(-90)" font-size="29.4">Fibroblast  <tspan font-style="italic">Pdgfrb</tspan><tspan font-size="17" dy="-12">+</tspan></text>
<line x1="1260.8" y1="389.3" x2="1260.8" y2="395.8" stroke="#000" stroke-width="1.2" />
<text transform="translate(1272.5,380.3) rotate(-90)" font-size="29.4">Fibroblast  <tspan font-style="italic">Pdgfra</tspan><tspan font-size="17" dy="-12">+</tspan></text>
<line x1="1295.6" y1="389.3" x2="1295.6" y2="395.8" stroke="#000" stroke-width="1.2" />
<text transform="translate(1307.2,380.3) rotate(-90)" font-size="29.4">Fibroblast <tspan font-style="italic">NCam1</tspan><tspan font-size="17" dy="-12">+</tspan></text>
<line x1="1330.3" y1="389.3" x2="1330.3" y2="395.8" stroke="#000" stroke-width="1.2" />
<text transform="translate(1341.9,380.3) rotate(-90)" font-size="29.4">Fibroblast</text>
<line x1="1365.0" y1="389.3" x2="1365.0" y2="395.8" stroke="#000" stroke-width="1.2" />
<text transform="translate(1376.6,380.3) rotate(-90)" font-size="29.4">Eosinophil</text>
<line x1="1399.7" y1="389.3" x2="1399.7" y2="395.8" stroke="#000" stroke-width="1.2" />
<text transform="translate(1411.3,380.3) rotate(-90)" font-size="29.4">Enteroendocrine</text>
<line x1="1434.4" y1="389.3" x2="1434.4" y2="395.8" stroke="#000" stroke-width="1.2" />
<text transform="translate(1446.0,380.3) rotate(-90)" font-size="29.4">Enterocyte 3</text>
<line x1="1469.1" y1="389.3" x2="1469.1" y2="395.8" stroke="#000" stroke-width="1.2" />
<text transform="translate(1480.7,380.3) rotate(-90)" font-size="29.4">Enterocyte 2</text>
<line x1="1503.8" y1="389.3" x2="1503.8" y2="395.8" stroke="#000" stroke-width="1.2" />
<text transform="translate(1515.4,380.3) rotate(-90)" font-size="29.4">Enterocyte 1</text>
<line x1="1538.5" y1="389.3" x2="1538.5" y2="395.8" stroke="#000" stroke-width="1.2" />
<text transform="translate(1550.1,380.3) rotate(-90)" font-size="29.4">Early Enterocyte</text>
<line x1="1573.2" y1="389.3" x2="1573.2" y2="395.8" stroke="#000" stroke-width="1.2" />
<text transform="translate(1584.8,380.3) rotate(-90)" font-size="29.4">DC2</text>
<line x1="1608.0" y1="389.3" x2="1608.0" y2="395.8" stroke="#000" stroke-width="1.2" />
<text transform="translate(1619.4,380.3) rotate(-90)" font-size="29.4">Complement Fibroblast</text>
<line x1="1642.7" y1="389.3" x2="1642.7" y2="395.8" stroke="#000" stroke-width="1.2" />
<text transform="translate(1654.1,380.3) rotate(-90)" font-size="29.4">CD8 T Cell <tspan font-family="Liberation Serif, serif">αβ</tspan></text>
<line x1="1677.4" y1="389.3" x2="1677.4" y2="395.8" stroke="#000" stroke-width="1.2" />
<text transform="translate(1688.8,380.3) rotate(-90)" font-size="29.4">CD8 T Cell <tspan font-family="Liberation Serif, serif">αα</tspan></text>
<line x1="1712.1" y1="389.3" x2="1712.1" y2="395.8" stroke="#000" stroke-width="1.2" />
<text transform="translate(1723.5,380.3) rotate(-90)" font-size="29.4">P14 CD8 T Cell</text>
<line x1="1746.8" y1="389.3" x2="1746.8" y2="395.8" stroke="#000" stroke-width="1.2" />
<text transform="translate(1758.2,380.3) rotate(-90)" font-size="29.4">CD4 T Cell</text>
<line x1="1781.5" y1="389.3" x2="1781.5" y2="395.8" stroke="#000" stroke-width="1.2" />
<text transform="translate(1792.9,380.3) rotate(-90)" font-size="29.4">B Cell</text>
<line x1="523.7" y1="418.9" x2="530.8" y2="418.9" stroke="#000" stroke-width="1.2" />
<line x1="523.7" y1="447.5" x2="530.8" y2="447.5" stroke="#000" stroke-width="1.2" />
<line x1="523.7" y1="475.9" x2="530.8" y2="475.9" stroke="#000" stroke-width="1.2" />
<text x="521.8" y="428.3" font-size="29" text-anchor="end"><tspan font-style="italic">Fer1l6</tspan></text>
<text x="521.8" y="456.0" font-size="29" text-anchor="end"><tspan font-style="italic">Neurog3</tspan></text>
<text x="521.8" y="485.3" font-size="29" text-anchor="end"><tspan font-style="italic">Muc5ac</tspan></text>
<circle cx="566.6" cy="418.9" r="1.10" fill="#111" stroke="none" stroke-width="1"/>
<circle cx="601.3" cy="418.9" r="0.75" fill="#111" stroke="none" stroke-width="1"/>
<circle cx="636.0" cy="418.9" r="1.45" fill="#111" stroke="none" stroke-width="1"/>
<circle cx="670.7" cy="418.9" r="2.00" fill="#fff" stroke="#000" stroke-width="1.3"/>
<circle cx="705.4" cy="418.9" r="1.85" fill="#111" stroke="none" stroke-width="1"/>
<circle cx="740.2" cy="418.9" r="1.85" fill="#111" stroke="none" stroke-width="1"/>
<circle cx="774.9" cy="418.9" r="0.75" fill="#111" stroke="none" stroke-width="1"/>
<circle cx="809.6" cy="418.9" r="1.10" fill="#111" stroke="none" stroke-width="1"/>
<circle cx="844.3" cy="418.9" r="0.75" fill="#111" stroke="none" stroke-width="1"/>
<circle cx="879.0" cy="418.9" r="0.75" fill="#111" stroke="none" stroke-width="1"/>
<circle cx="913.7" cy="418.9" r="0.75" fill="#111" stroke="none" stroke-width="1"/>
<circle cx="948.4" cy="418.9" r="1.45" fill="#111" stroke="none" stroke-width="1"/>
<circle cx="983.1" cy="418.9" r="2.00" fill="#fff" stroke="#000" stroke-width="1.3"/>
<circle cx="1017.9" cy="418.9" r="1.10" fill="#111" stroke="none" stroke-width="1"/>
<circle cx="1052.6" cy="418.9" r="1.45" fill="#111" stroke="none" stroke-width="1"/>
<circle cx="1087.3" cy="418.9" r="0.75" fill="#111" stroke="none" stroke-width="1"/>
<circle cx="1122.0" cy="418.9" r="1.10" fill="#111" stroke="none" stroke-width="1"/>
<circle cx="1156.7" cy="418.9" r="1.10" fill="#111" stroke="none" stroke-width="1"/>
<circle cx="1191.4" cy="418.9" r="12.30" fill="#6b0a14" stroke="#000" stroke-width="1.1"/>
<circle cx="1226.1" cy="418.9" r="1.10" fill="#111" stroke="none" stroke-width="1"/>
<circle cx="1260.8" cy="418.9" r="1.10" fill="#111" stroke="none" stroke-width="1"/>
<circle cx="1295.6" cy="418.9" r="0.75" fill="#111" stroke="none" stroke-width="1"/>
<circle cx="1330.3" cy="418.9" r="1.10" fill="#111" stroke="none" stroke-width="1"/>
<circle cx="1365.0" cy="418.9" r="1.10" fill="#111" stroke="none" stroke-width="1"/>
<circle cx="1399.7" cy="418.9" r="1.45" fill="#111" stroke="none" stroke-width="1"/>
<circle cx="1434.4" cy="418.9" r="1.45" fill="#111" stroke="none" stroke-width="1"/>
<circle cx="1469.1" cy="418.9" r="6.90" fill="#f9a587" stroke="#000" stroke-width="1.1"/>
<circle cx="1503.8" cy="418.9" r="1.80" fill="#fff" stroke="#000" stroke-width="1.2"/>
<circle cx="1538.5" cy="418.9" r="1.85" fill="#111" stroke="none" stroke-width="1"/>
<circle cx="1573.2" cy="418.9" r="0.75" fill="#111" stroke="none" stroke-width="1"/>
<circle cx="1608.0" cy="418.9" r="0.75" fill="#111" stroke="none" stroke-width="1"/>
<circle cx="1642.7" cy="418.9" r="1.45" fill="#111" stroke="none" stroke-width="1"/>
<circle cx="1677.4" cy="418.9" r="1.45" fill="#111" stroke="none" stroke-width="1"/>
<circle cx="1712.1" cy="418.9" r="0.75" fill="#111" stroke="none" stroke-width="1"/>
<circle cx="1746.8" cy="418.9" r="0.75" fill="#111" stroke="none" stroke-width="1"/>
<circle cx="1781.5" cy="418.9" r="0.75" fill="#111" stroke="none" stroke-width="1"/>
<circle cx="601.3" cy="447.5" r="1.10" fill="#111" stroke="none" stroke-width="1"/>
<circle cx="636.0" cy="447.5" r="1.10" fill="#111" stroke="none" stroke-width="1"/>
<circle cx="670.7" cy="447.5" r="1.45" fill="#111" stroke="none" stroke-width="1"/>
<circle cx="705.4" cy="447.5" r="0.75" fill="#111" stroke="none" stroke-width="1"/>
<circle cx="740.2" cy="447.5" r="1.10" fill="#111" stroke="none" stroke-width="1"/>
<circle cx="774.9" cy="447.5" r="1.10" fill="#111" stroke="none" stroke-width="1"/>
<circle cx="809.6" cy="447.5" r="1.10" fill="#111" stroke="none" stroke-width="1"/>
<circle cx="844.3" cy="447.5" r="1.10" fill="#111" stroke="none" stroke-width="1"/>
<circle cx="879.0" cy="447.5" r="0.75" fill="#111" stroke="none" stroke-width="1"/>
<circle cx="913.7" cy="447.5" r="0.75" fill="#111" stroke="none" stroke-width="1"/>
<circle cx="948.4" cy="447.5" r="0.75" fill="#111" stroke="none" stroke-width="1"/>
<circle cx="1017.9" cy="447.5" r="0.75" fill="#111" stroke="none" stroke-width="1"/>
<circle cx="1052.6" cy="447.5" r="0.75" fill="#111" stroke="none" stroke-width="1"/>
<circle cx="1087.3" cy="447.5" r="1.10" fill="#111" stroke="none" stroke-width="1"/>
<circle cx="1122.0" cy="447.5" r="1.45" fill="#111" stroke="none" stroke-width="1"/>
<circle cx="1156.7" cy="447.5" r="0.75" fill="#111" stroke="none" stroke-width="1"/>
<circle cx="1191.4" cy="447.5" r="1.10" fill="#111" stroke="none" stroke-width="1"/>
<circle cx="1226.1" cy="447.5" r="0.75" fill="#111" stroke="none" stroke-width="1"/>
<circle cx="1260.8" cy="447.5" r="1.10" fill="#111" stroke="none" stroke-width="1"/>
<circle cx="1295.6" cy="447.5" r="1.10" fill="#111" stroke="none" stroke-width="1"/>
<circle cx="1330.3" cy="447.5" r="1.10" fill="#111" stroke="none" stroke-width="1"/>
<circle cx="1365.0" cy="447.5" r="1.10" fill="#111" stroke="none" stroke-width="1"/>
<circle cx="1399.7" cy="447.5" r="0.75" fill="#111" stroke="none" stroke-width="1"/>
<circle cx="1434.4" cy="447.5" r="0.75" fill="#111" stroke="none" stroke-width="1"/>
<circle cx="1469.1" cy="447.5" r="0.75" fill="#111" stroke="none" stroke-width="1"/>
<circle cx="1503.8" cy="447.5" r="0.75" fill="#111" stroke="none" stroke-width="1"/>
<circle cx="1538.5" cy="447.5" r="0.75" fill="#111" stroke="none" stroke-width="1"/>
<circle cx="1573.2" cy="447.5" r="0.75" fill="#111" stroke="none" stroke-width="1"/>
<circle cx="1608.0" cy="447.5" r="0.75" fill="#111" stroke="none" stroke-width="1"/>
<circle cx="1642.7" cy="447.5" r="0.75" fill="#111" stroke="none" stroke-width="1"/>
<circle cx="1677.4" cy="447.5" r="0.75" fill="#111" stroke="none" stroke-width="1"/>
<circle cx="1712.1" cy="447.5" r="0.75" fill="#111" stroke="none" stroke-width="1"/>
<circle cx="1746.8" cy="447.5" r="0.75" fill="#111" stroke="none" stroke-width="1"/>
<circle cx="1781.5" cy="447.5" r="0.75" fill="#111" stroke="none" stroke-width="1"/>
<circle cx="566.6" cy="475.9" r="1.10" fill="#111" stroke="none" stroke-width="1"/>
<circle cx="601.3" cy="475.9" r="1.10" fill="#111" stroke="none" stroke-width="1"/>
<circle cx="670.7" cy="475.9" r="0.75" fill="#111" stroke="none" stroke-width="1"/>
<circle cx="705.4" cy="475.9" r="1.10" fill="#111" stroke="none" stroke-width="1"/>
<circle cx="740.2" cy="475.9" r="1.10" fill="#111" stroke="none" stroke-width="1"/>
<circle cx="774.9" cy="475.9" r="1.10" fill="#111" stroke="none" stroke-width="1"/>
<circle cx="809.6" cy="475.9" r="1.10" fill="#111" stroke="none" stroke-width="1"/>
<circle cx="844.3" cy="475.9" r="1.10" fill="#111" stroke="none" stroke-width="1"/>
<circle cx="913.7" cy="475.9" r="0.75" fill="#111" stroke="none" stroke-width="1"/>
<circle cx="948.4" cy="475.9" r="1.10" fill="#111" stroke="none" stroke-width="1"/>
<circle cx="1017.9" cy="475.9" r="0.75" fill="#111" stroke="none" stroke-width="1"/>
<circle cx="1052.6" cy="475.9" r="0.75" fill="#111" stroke="none" stroke-width="1"/>
<circle cx="1087.3" cy="475.9" r="0.75" fill="#111" stroke="none" stroke-width="1"/>
<circle cx="1122.0" cy="475.9" r="0.75" fill="#111" stroke="none" stroke-width="1"/>
<circle cx="1156.7" cy="475.9" r="0.75" fill="#111" stroke="none" stroke-width="1"/>
<circle cx="1191.4" cy="475.9" r="0.75" fill="#111" stroke="none" stroke-width="1"/>
<circle cx="1226.1" cy="475.9" r="0.75" fill="#111" stroke="none" stroke-width="1"/>
<circle cx="1260.8" cy="475.9" r="0.75" fill="#111" stroke="none" stroke-width="1"/>
<circle cx="1295.6" cy="475.9" r="0.75" fill="#111" stroke="none" stroke-width="1"/>
<circle cx="1330.3" cy="475.9" r="0.75" fill="#111" stroke="none" stroke-width="1"/>
<circle cx="1365.0" cy="475.9" r="0.75" fill="#111" stroke="none" stroke-width="1"/>
<circle cx="1399.7" cy="475.9" r="0.75" fill="#111" stroke="none" stroke-width="1"/>
<circle cx="1434.4" cy="475.9" r="0.75" fill="#111" stroke="none" stroke-width="1"/>
<circle cx="1469.1" cy="475.9" r="0.75" fill="#111" stroke="none" stroke-width="1"/>
<circle cx="1503.8" cy="475.9" r="0.75" fill="#111" stroke="none" stroke-width="1"/>
<circle cx="1538.5" cy="475.9" r="0.75" fill="#111" stroke="none" stroke-width="1"/>
<circle cx="1573.2" cy="475.9" r="0.75" fill="#111" stroke="none" stroke-width="1"/>
<circle cx="1608.0" cy="475.9" r="0.75" fill="#111" stroke="none" stroke-width="1"/>
<circle cx="1642.7" cy="475.9" r="0.75" fill="#111" stroke="none" stroke-width="1"/>
<circle cx="1677.4" cy="475.9" r="0.75" fill="#111" stroke="none" stroke-width="1"/>
<circle cx="1712.1" cy="475.9" r="0.75" fill="#111" stroke="none" stroke-width="1"/>
<circle cx="1746.8" cy="475.9" r="0.75" fill="#111" stroke="none" stroke-width="1"/>
<circle cx="1781.5" cy="475.9" r="0.75" fill="#111" stroke="none" stroke-width="1"/>
<rect x="530.8" y="395.8" width="1285.6" height="102.7" fill="none" stroke="#383838" stroke-width="1.6" />
<text x="805.3" y="531.2" font-size="29.25">combined timecourse samples (d6, d8, d30, d90 p.i. LCMV)</text>
<text x="1827.9" y="267.6" font-size="29">fraction of cells</text>
<text x="1827.9" y="298.6" font-size="29">in group</text>
<circle cx="1848.1" cy="324.6" r="4.20" fill="#808080" stroke="#000" stroke-width="1"/>
<line x1="1848.1" y1="340.4" x2="1848.1" y2="345.6" stroke="#000" stroke-width="1.2" />
<text x="1848.1" y="369.5" font-size="29" text-anchor="middle">20</text>
<circle cx="1888.1" cy="324.6" r="7.30" fill="#808080" stroke="#000" stroke-width="1"/>
<line x1="1888.1" y1="340.4" x2="1888.1" y2="345.6" stroke="#000" stroke-width="1.2" />
<text x="1888.1" y="369.5" font-size="29" text-anchor="middle">40</text>
<circle cx="1936.7" cy="324.6" r="10.00" fill="#808080" stroke="#000" stroke-width="1"/>
<line x1="1936.7" y1="340.4" x2="1936.7" y2="345.6" stroke="#000" stroke-width="1.2" />
<text x="1936.7" y="369.5" font-size="29" text-anchor="middle">60</text>
<circle cx="1984.8" cy="324.6" r="12.30" fill="#808080" stroke="#000" stroke-width="1"/>
<line x1="1984.8" y1="340.4" x2="1984.8" y2="345.6" stroke="#000" stroke-width="1.2" />
<text x="1984.8" y="369.5" font-size="29" text-anchor="middle">80</text>
<text x="1827.9" y="416.0" font-size="29">Mean expression</text>
<text x="1827.9" y="446.8" font-size="29">in group</text>
<defs><linearGradient id="reds" x1="0" x2="1" y1="0" y2="0"><stop offset="0" stop-color="#fff5f0"/><stop offset="0.125" stop-color="#fee0d2"/><stop offset="0.25" stop-color="#fcbba1"/><stop offset="0.375" stop-color="#fc9272"/><stop offset="0.5" stop-color="#fb6a4a"/><stop offset="0.625" stop-color="#ef3b2c"/><stop offset="0.75" stop-color="#cb181d"/><stop offset="0.875" stop-color="#a50f15"/><stop offset="1" stop-color="#67000d"/></linearGradient></defs>
<rect x="1835.0" y="463.9" width="90.6" height="12.4" fill="url(#reds)" stroke="#000" stroke-width="1.2" />
<line x1="1835.0" y1="476.3" x2="1835.0" y2="481.0" stroke="#000" stroke-width="1.2" />
<line x1="1887.0" y1="476.3" x2="1887.0" y2="481.0" stroke="#000" stroke-width="1.2" />
<text x="1835.6" y="501.8" font-size="29" text-anchor="middle">0</text>
<text x="1887.4" y="501.8" font-size="29" text-anchor="middle">1</text>
<rect x="153.4" y="740.9" width="71.4" height="166.9" fill="#7eb1d6"/>
<rect x="242.6" y="905.0" width="70.9" height="2.8" fill="#ecc088"/>
<rect x="141.0" y="702.9" width="275.0" height="204.9" fill="none" stroke="#333" stroke-width="1.5" />
<line x1="137.2" y1="907.8" x2="141.0" y2="907.8" stroke="#000" stroke-width="1.3" />
<text x="134.4" y="916.8" font-size="28" text-anchor="end">0</text>
<line x1="137.2" y1="862.3" x2="141.0" y2="862.3" stroke="#000" stroke-width="1.3" />
<text x="134.4" y="871.3" font-size="28" text-anchor="end">1000</text>
<line x1="137.2" y1="816.7" x2="141.0" y2="816.7" stroke="#000" stroke-width="1.3" />
<text x="134.4" y="824.8" font-size="28" text-anchor="end">2000</text>
<line x1="137.2" y1="771.1" x2="141.0" y2="771.1" stroke="#000" stroke-width="1.3" />
<text x="134.4" y="783.4" font-size="28" text-anchor="end">3000</text>
<line x1="137.2" y1="725.3" x2="141.0" y2="725.3" stroke="#000" stroke-width="1.3" />
<text x="134.4" y="737.1" font-size="28" text-anchor="end">4000</text>
<line x1="139.0" y1="748.2" x2="141.0" y2="748.2" stroke="#000" stroke-width="1.1" />
<line x1="139.0" y1="793.9" x2="141.0" y2="793.9" stroke="#000" stroke-width="1.1" />
<line x1="139.0" y1="839.5" x2="141.0" y2="839.5" stroke="#000" stroke-width="1.1" />
<line x1="139.0" y1="885.1" x2="141.0" y2="885.1" stroke="#000" stroke-width="1.1" />
<line x1="188.6" y1="907.8" x2="188.6" y2="911.0" stroke="#000" stroke-width="1.2" />
<text x="188.6" y="936.2" font-size="29" text-anchor="middle">1</text>
<line x1="277.7" y1="907.8" x2="277.7" y2="911.0" stroke="#000" stroke-width="1.2" />
<text x="277.7" y="936.2" font-size="29" text-anchor="middle">2</text>
<line x1="368.7" y1="907.8" x2="368.7" y2="911.0" stroke="#000" stroke-width="1.2" />
<text x="368.7" y="936.2" font-size="29" text-anchor="middle">3</text>
<text x="188.3" y="735.6" font-size="29" text-anchor="middle">3661</text>
<text x="192.3" y="766.1" font-size="29" text-anchor="middle">98.3%</text>
<text x="277.3" y="869.5" font-size="29" text-anchor="middle">61</text>
<text x="280.0" y="898.4" font-size="29" text-anchor="middle">1.64%</text>
<text x="364.4" y="869.8" font-size="29" text-anchor="middle">1</text>
<text x="369.0" y="898.4" font-size="29" text-anchor="middle">0.03%</text>
<text x="280.0" y="964.3" font-size="29" text-anchor="middle">unique sgRNA number/cell</text>
<text transform="translate(62.3,784.5) rotate(-90)" font-size="29" text-anchor="middle">Count</text>
<rect x="730.7" y="595.0" width="172.6" height="239.4" fill="none" stroke="#333" stroke-width="1.5" />
<line x1="718.9" y1="642.2" x2="730.7" y2="642.2" stroke="#000" stroke-width="1.3" />
<line x1="718.9" y1="690.8" x2="730.7" y2="690.8" stroke="#000" stroke-width="1.3" />
<line x1="718.9" y1="738.6" x2="730.7" y2="738.6" stroke="#000" stroke-width="1.3" />
<line x1="718.9" y1="785.9" x2="730.7" y2="785.9" stroke="#000" stroke-width="1.3" />
<line x1="769.0" y1="834.4" x2="769.0" y2="844.2" stroke="#000" stroke-width="1.3" />
<line x1="816.8" y1="834.4" x2="816.8" y2="844.2" stroke="#000" stroke-width="1.3" />
<line x1="864.7" y1="834.4" x2="864.7" y2="844.2" stroke="#000" stroke-width="1.3" />
<text x="714.0" y="650.5" font-size="29" text-anchor="end">other cells</text>
<text x="714.0" y="698.3" font-size="29" text-anchor="end">sg<tspan font-style="italic">Cd19</tspan></text>
<text x="714.0" y="746.4" font-size="29" text-anchor="end">sg<tspan font-style="italic">Cxcr3</tspan></text>
<text x="714.0" y="793.8" font-size="29" text-anchor="end">sg<tspan font-style="italic">Thy1</tspan></text>
<text x="581.4" y="731.2" font-size="29" text-anchor="end">P14 CD8</text>
<text x="581.4" y="757.6" font-size="29" text-anchor="end">T cells</text>
<line x1="598.5" y1="676.4" x2="598.5" y2="801.5" stroke="#000" stroke-width="1.3" />
<circle cx="769.0" cy="642.2" r="2.40" fill="#fff" stroke="#000" stroke-width="1.2"/>
<circle cx="816.8" cy="642.2" r="1.20" fill="#000" stroke="none" stroke-width="1"/>
<circle cx="864.7" cy="642.2" r="1.00" fill="#000" stroke="none" stroke-width="1"/>
<circle cx="864.7" cy="690.8" r="22.00" fill="#6a0513" stroke="#000" stroke-width="1.1"/>
<circle cx="769.0" cy="738.6" r="22.20" fill="#b0141d" stroke="#000" stroke-width="1.1"/>
<circle cx="816.8" cy="785.9" r="22.00" fill="#d6222a" stroke="#000" stroke-width="1.1"/>
<text transform="translate(776.2,850) rotate(-90)" font-size="29" text-anchor="end">pseudo-<tspan font-style="italic">Fer1l6</tspan></text>
<text transform="translate(824.1,850) rotate(-90)" font-size="29" text-anchor="end">pseudo-<tspan font-style="italic">Neurog3</tspan></text>
<text transform="translate(872.4,850) rotate(-90)" font-size="29" text-anchor="end">pseudo-<tspan font-style="italic">Muc5ac</tspan></text>
<text x="924.2" y="582.8" font-size="29">fraction of cells</text>
<text x="924.2" y="613.5" font-size="29">in group</text>
<circle cx="945.3" cy="649.2" r="9.00" fill="#808080" stroke="#000" stroke-width="1"/>
<line x1="945.3" y1="680.2" x2="945.3" y2="694.1" stroke="#000" stroke-width="1.3" />
<text x="945.3" y="722.5" font-size="29" text-anchor="middle">20</text>
<circle cx="1006.6" cy="649.2" r="15.20" fill="#808080" stroke="#000" stroke-width="1"/>
<line x1="1006.6" y1="680.2" x2="1006.6" y2="694.1" stroke="#000" stroke-width="1.3" />
<text x="1006.6" y="722.5" font-size="29" text-anchor="middle">40</text>
<circle cx="1068.0" cy="649.2" r="20.50" fill="#808080" stroke="#000" stroke-width="1"/>
<line x1="1068.0" y1="680.2" x2="1068.0" y2="694.1" stroke="#000" stroke-width="1.3" />
<text x="1068.0" y="722.5" font-size="29" text-anchor="middle">60</text>
<circle cx="1129.0" cy="649.2" r="25.20" fill="#808080" stroke="#000" stroke-width="1"/>
<line x1="1129.0" y1="680.2" x2="1129.0" y2="694.1" stroke="#000" stroke-width="1.3" />
<text x="1129.0" y="722.5" font-size="29" text-anchor="middle">80</text>
<text x="924.2" y="759.8" font-size="29">Mean expression</text>
<text x="924.2" y="789.2" font-size="29">in group</text>
<rect x="924.2" y="801.6" width="203.3" height="24.2" fill="url(#reds)" stroke="#000" stroke-width="1.3" />
<line x1="924.2" y1="825.8" x2="924.2" y2="834.5" stroke="#000" stroke-width="1.3" />
<line x1="1031.4" y1="825.8" x2="1031.4" y2="834.5" stroke="#000" stroke-width="1.3" />
<text x="924.2" y="861.8" font-size="29" text-anchor="middle">0</text>
<text x="1031.4" y="861.8" font-size="29" text-anchor="middle">2</text>
<rect x="1317.3" y="747.4" width="30.9" height="159.2" fill="#e8cba2" stroke="#3a3a3a" stroke-width="1.2"/>
<rect x="1356.0" y="766.6" width="31.3" height="140.0" fill="#e8cba2" stroke="#3a3a3a" stroke-width="1.2"/>
<rect x="1395.3" y="744.5" width="31.4" height="162.1" fill="#e8cba2" stroke="#3a3a3a" stroke-width="1.2"/>
<rect x="1434.5" y="732.4" width="31.6" height="174.2" fill="#e8cba2" stroke="#3a3a3a" stroke-width="1.2"/>
<rect x="1473.6" y="736.3" width="31.6" height="170.3" fill="#e8cba2" stroke="#3a3a3a" stroke-width="1.2"/>
<line x1="1332.8" y1="731.3" x2="1332.8" y2="763.4" stroke="#000" stroke-width="1.3" />
<line x1="1330.2" y1="731.3" x2="1335.2" y2="731.3" stroke="#000" stroke-width="1.3" />
<line x1="1330.2" y1="763.4" x2="1335.2" y2="763.4" stroke="#000" stroke-width="1.3" />
<line x1="1371.7" y1="758.8" x2="1371.7" y2="775.9" stroke="#000" stroke-width="1.3" />
<line x1="1369.2" y1="758.8" x2="1374.2" y2="758.8" stroke="#000" stroke-width="1.3" />
<line x1="1369.2" y1="775.9" x2="1374.2" y2="775.9" stroke="#000" stroke-width="1.3" />
<line x1="1411.0" y1="734.9" x2="1411.0" y2="754.1" stroke="#000" stroke-width="1.3" />
<line x1="1408.5" y1="734.9" x2="1413.5" y2="734.9" stroke="#000" stroke-width="1.3" />
<line x1="1408.5" y1="754.1" x2="1413.5" y2="754.1" stroke="#000" stroke-width="1.3" />
<line x1="1450.3" y1="723.8" x2="1450.3" y2="740.6" stroke="#000" stroke-width="1.3" />
<line x1="1447.8" y1="723.8" x2="1452.8" y2="723.8" stroke="#000" stroke-width="1.3" />
<line x1="1447.8" y1="740.6" x2="1452.8" y2="740.6" stroke="#000" stroke-width="1.3" />
<line x1="1489.4" y1="727.7" x2="1489.4" y2="745.6" stroke="#000" stroke-width="1.3" />
<line x1="1486.9" y1="727.7" x2="1491.9" y2="727.7" stroke="#000" stroke-width="1.3" />
<line x1="1486.9" y1="745.6" x2="1491.9" y2="745.6" stroke="#000" stroke-width="1.3" />
<rect x="1307.6" y="700.3" width="206.9" height="206.3" fill="none" stroke="#111" stroke-width="1.4" />
<line x1="1302.8" y1="906.6" x2="1307.6" y2="906.6" stroke="#000" stroke-width="1.3" />
<text x="1299.3" y="917.9" font-size="29" text-anchor="end">0</text>
<line x1="1302.8" y1="863.2" x2="1307.6" y2="863.2" stroke="#000" stroke-width="1.3" />
<text x="1299.3" y="873.7" font-size="29" text-anchor="end">1</text>
<line x1="1302.8" y1="819.3" x2="1307.6" y2="819.3" stroke="#000" stroke-width="1.3" />
<text x="1299.3" y="828.6" font-size="29" text-anchor="end">2</text>
<line x1="1302.8" y1="776.1" x2="1307.6" y2="776.1" stroke="#000" stroke-width="1.3" />
<text x="1299.3" y="784.6" font-size="29" text-anchor="end">3</text>
<line x1="1302.8" y1="732.2" x2="1307.6" y2="732.2" stroke="#000" stroke-width="1.3" />
<text x="1299.3" y="739.4" font-size="29" text-anchor="end">4</text>
<line x1="1332.8" y1="906.6" x2="1332.8" y2="909.2" stroke="#000" stroke-width="1.0" />
<line x1="1371.7" y1="906.6" x2="1371.7" y2="909.2" stroke="#000" stroke-width="1.0" />
<line x1="1411.0" y1="906.6" x2="1411.0" y2="909.2" stroke="#000" stroke-width="1.0" />
<line x1="1450.3" y1="906.6" x2="1450.3" y2="909.2" stroke="#000" stroke-width="1.0" />
<line x1="1489.4" y1="906.6" x2="1489.4" y2="909.2" stroke="#000" stroke-width="1.0" />
<text transform="translate(1343.5,919.2) rotate(-45)" font-size="29" text-anchor="end">musc.</text>
<text x="1371.7" y="936.8" font-size="29" text-anchor="middle">LP</text>
<text x="1411.0" y="936.8" font-size="29" text-anchor="middle">IE</text>
<text x="1450.3" y="936.8" font-size="29" text-anchor="middle">LP</text>
<text x="1489.4" y="936.8" font-size="29" text-anchor="middle">IE</text>
<line x1="1355.7" y1="946.9" x2="1426.0" y2="946.9" stroke="#444" stroke-width="1.5" />
<line x1="1434.3" y1="946.9" x2="1505.4" y2="946.9" stroke="#444" stroke-width="1.5" />
<text x="1391.3" y="973.5" font-size="29" text-anchor="middle">crypt</text>
<text x="1471.8" y="973.5" font-size="29" text-anchor="middle">top</text>
<text x="1412.5" y="663.7" font-size="29" text-anchor="middle">pseudo-<tspan font-style="italic">Muc5ac</tspan></text>
<text x="1412.5" y="690.8" font-size="29" text-anchor="middle">sg<tspan font-style="italic">Cd19</tspan></text>
<line x1="1372.6" y1="718.0" x2="1450.0" y2="718.0" stroke="#000" stroke-width="1.3" />
<text x="1412.3" y="724.3" font-size="29" text-anchor="middle">*</text>
<rect x="1580.0" y="760.9" width="31.3" height="146.2" fill="#b2001a" stroke="#3a3a3a" stroke-width="1.2"/>
<rect x="1618.4" y="751.6" width="32.1" height="155.5" fill="#b2001a" stroke="#3a3a3a" stroke-width="1.2"/>
<rect x="1657.7" y="775.1" width="32.1" height="132.0" fill="#b2001a" stroke="#3a3a3a" stroke-width="1.2"/>
<rect x="1697.6" y="728.1" width="31.4" height="179.0" fill="#b2001a" stroke="#3a3a3a" stroke-width="1.2"/>
<rect x="1736.1" y="758.4" width="32.1" height="148.7" fill="#b2001a" stroke="#3a3a3a" stroke-width="1.2"/>
<line x1="1595.7" y1="725.2" x2="1595.7" y2="797.2" stroke="#000" stroke-width="1.3" />
<line x1="1593.2" y1="725.2" x2="1598.2" y2="725.2" stroke="#000" stroke-width="1.3" />
<line x1="1593.2" y1="797.2" x2="1598.2" y2="797.2" stroke="#000" stroke-width="1.3" />
<line x1="1634.5" y1="733.4" x2="1634.5" y2="770.5" stroke="#000" stroke-width="1.3" />
<line x1="1632.0" y1="733.4" x2="1637.0" y2="733.4" stroke="#000" stroke-width="1.3" />
<line x1="1632.0" y1="770.5" x2="1637.0" y2="770.5" stroke="#000" stroke-width="1.3" />
<line x1="1673.8" y1="760.9" x2="1673.8" y2="790.5" stroke="#000" stroke-width="1.3" />
<line x1="1671.2" y1="760.9" x2="1676.2" y2="760.9" stroke="#000" stroke-width="1.3" />
<line x1="1671.2" y1="790.5" x2="1676.2" y2="790.5" stroke="#000" stroke-width="1.3" />
<line x1="1713.3" y1="711.7" x2="1713.3" y2="746.6" stroke="#000" stroke-width="1.3" />
<line x1="1710.8" y1="711.7" x2="1715.8" y2="711.7" stroke="#000" stroke-width="1.3" />
<line x1="1710.8" y1="746.6" x2="1715.8" y2="746.6" stroke="#000" stroke-width="1.3" />
<line x1="1752.2" y1="746.6" x2="1752.2" y2="770.5" stroke="#000" stroke-width="1.3" />
<line x1="1749.7" y1="746.6" x2="1754.7" y2="746.6" stroke="#000" stroke-width="1.3" />
<line x1="1749.7" y1="770.5" x2="1754.7" y2="770.5" stroke="#000" stroke-width="1.3" />
<rect x="1570.3" y="701.3" width="207.6" height="205.8" fill="none" stroke="#111" stroke-width="1.4" />
<line x1="1566.1" y1="907.1" x2="1570.3" y2="907.1" stroke="#000" stroke-width="1.3" />
<text x="1564.6" y="917.9" font-size="29" text-anchor="end">0</text>
<line x1="1566.1" y1="860.1" x2="1570.3" y2="860.1" stroke="#000" stroke-width="1.3" />
<text x="1564.6" y="869.3" font-size="29" text-anchor="end">1</text>
<line x1="1566.1" y1="812.1" x2="1570.3" y2="812.1" stroke="#000" stroke-width="1.3" />
<text x="1564.6" y="822.5" font-size="29" text-anchor="end">2</text>
<line x1="1566.1" y1="764.9" x2="1570.3" y2="764.9" stroke="#000" stroke-width="1.3" />
<text x="1564.6" y="776.0" font-size="29" text-anchor="end">3</text>
<line x1="1566.1" y1="717.9" x2="1570.3" y2="717.9" stroke="#000" stroke-width="1.3" />
<text x="1564.6" y="728.5" font-size="29" text-anchor="end">4</text>
<line x1="1566.1" y1="741.2" x2="1570.3" y2="741.2" stroke="#444" stroke-width="1.1" />
<line x1="1566.1" y1="789.2" x2="1570.3" y2="789.2" stroke="#444" stroke-width="1.1" />
<line x1="1566.1" y1="836.3" x2="1570.3" y2="836.3" stroke="#444" stroke-width="1.1" />
<line x1="1566.1" y1="884.4" x2="1570.3" y2="884.4" stroke="#444" stroke-width="1.1" />
<line x1="1595.7" y1="907.1" x2="1595.7" y2="909.7" stroke="#000" stroke-width="1.0" />
<line x1="1634.5" y1="907.1" x2="1634.5" y2="909.7" stroke="#000" stroke-width="1.0" />
<line x1="1673.8" y1="907.1" x2="1673.8" y2="909.7" stroke="#000" stroke-width="1.0" />
<line x1="1713.3" y1="907.1" x2="1713.3" y2="909.7" stroke="#000" stroke-width="1.0" />
<line x1="1752.2" y1="907.1" x2="1752.2" y2="909.7" stroke="#000" stroke-width="1.0" />
<text transform="translate(1606.4,919.7) rotate(-45)" font-size="29" text-anchor="end">musc.</text>
<text x="1634.5" y="936.8" font-size="29" text-anchor="middle">LP</text>
<text x="1673.8" y="936.8" font-size="29" text-anchor="middle">IE</text>
<text x="1713.3" y="936.8" font-size="29" text-anchor="middle">LP</text>
<text x="1752.2" y="936.8" font-size="29" text-anchor="middle">IE</text>
<line x1="1618.5" y1="946.9" x2="1688.8" y2="946.9" stroke="#444" stroke-width="1.5" />
<line x1="1697.3" y1="946.9" x2="1768.2" y2="946.9" stroke="#444" stroke-width="1.5" />
<text x="1654.1" y="973.5" font-size="29" text-anchor="middle">crypt</text>
<text x="1734.7" y="973.5" font-size="29" text-anchor="middle">top</text>
<text x="1679.5" y="663.7" font-size="29" text-anchor="middle">pseudo-<tspan font-style="italic">Fer1l6</tspan></text>
<text x="1679.5" y="690.8" font-size="29" text-anchor="middle">sg<tspan font-style="italic">Cxcr3</tspan></text>
<rect x="1847.9" y="736.8" width="30.7" height="170.8" fill="#bfbfbf" stroke="#3a3a3a" stroke-width="1.2"/>
<rect x="1886.4" y="745.7" width="31.5" height="161.9" fill="#bfbfbf" stroke="#3a3a3a" stroke-width="1.2"/>
<rect x="1925.7" y="761.8" width="31.4" height="145.8" fill="#bfbfbf" stroke="#3a3a3a" stroke-width="1.2"/>
<rect x="1964.3" y="734.6" width="32.1" height="173.0" fill="#bfbfbf" stroke="#3a3a3a" stroke-width="1.2"/>
<rect x="2004.3" y="723.2" width="31.4" height="184.4" fill="#bfbfbf" stroke="#3a3a3a" stroke-width="1.2"/>
<line x1="1863.2" y1="722.9" x2="1863.2" y2="751.4" stroke="#000" stroke-width="1.3" />
<line x1="1860.8" y1="722.9" x2="1865.8" y2="722.9" stroke="#000" stroke-width="1.3" />
<line x1="1860.8" y1="751.4" x2="1865.8" y2="751.4" stroke="#000" stroke-width="1.3" />
<line x1="1902.2" y1="733.6" x2="1902.2" y2="758.6" stroke="#000" stroke-width="1.3" />
<line x1="1899.7" y1="733.6" x2="1904.7" y2="733.6" stroke="#000" stroke-width="1.3" />
<line x1="1899.7" y1="758.6" x2="1904.7" y2="758.6" stroke="#000" stroke-width="1.3" />
<line x1="1941.4" y1="751.0" x2="1941.4" y2="772.5" stroke="#000" stroke-width="1.3" />
<line x1="1938.9" y1="751.0" x2="1943.9" y2="751.0" stroke="#000" stroke-width="1.3" />
<line x1="1938.9" y1="772.5" x2="1943.9" y2="772.5" stroke="#000" stroke-width="1.3" />
<line x1="1980.3" y1="725.7" x2="1980.3" y2="743.9" stroke="#000" stroke-width="1.3" />
<line x1="1977.8" y1="725.7" x2="1982.8" y2="725.7" stroke="#000" stroke-width="1.3" />
<line x1="1977.8" y1="743.9" x2="1982.8" y2="743.9" stroke="#000" stroke-width="1.3" />
<line x1="2020.0" y1="711.4" x2="2020.0" y2="735.0" stroke="#000" stroke-width="1.3" />
<line x1="2017.5" y1="711.4" x2="2022.5" y2="711.4" stroke="#000" stroke-width="1.3" />
<line x1="2017.5" y1="735.0" x2="2022.5" y2="735.0" stroke="#000" stroke-width="1.3" />
<rect x="1838.2" y="701.4" width="206.4" height="206.2" fill="none" stroke="#111" stroke-width="1.4" />
<line x1="1833.6" y1="907.6" x2="1838.2" y2="907.6" stroke="#000" stroke-width="1.3" />
<text x="1829.8" y="918.9" font-size="29" text-anchor="end">0</text>
<line x1="1833.6" y1="845.6" x2="1838.2" y2="845.6" stroke="#000" stroke-width="1.3" />
<text x="1829.8" y="855.7" font-size="29" text-anchor="end">1</text>
<line x1="1833.6" y1="783.5" x2="1838.2" y2="783.5" stroke="#000" stroke-width="1.3" />
<text x="1829.8" y="793.8" font-size="29" text-anchor="end">2</text>
<line x1="1833.6" y1="721.0" x2="1838.2" y2="721.0" stroke="#000" stroke-width="1.3" />
<text x="1829.8" y="731.6" font-size="29" text-anchor="end">3</text>
<line x1="1833.6" y1="752.5" x2="1838.2" y2="752.5" stroke="#444" stroke-width="1.1" />
<line x1="1833.6" y1="814.3" x2="1838.2" y2="814.3" stroke="#444" stroke-width="1.1" />
<line x1="1833.6" y1="877.1" x2="1838.2" y2="877.1" stroke="#444" stroke-width="1.1" />
<line x1="1863.2" y1="907.6" x2="1863.2" y2="910.2" stroke="#000" stroke-width="1.0" />
<line x1="1902.2" y1="907.6" x2="1902.2" y2="910.2" stroke="#000" stroke-width="1.0" />
<line x1="1941.4" y1="907.6" x2="1941.4" y2="910.2" stroke="#000" stroke-width="1.0" />
<line x1="1980.3" y1="907.6" x2="1980.3" y2="910.2" stroke="#000" stroke-width="1.0" />
<line x1="2020.0" y1="907.6" x2="2020.0" y2="910.2" stroke="#000" stroke-width="1.0" />
<text transform="translate(1874.0,920.2) rotate(-45)" font-size="29" text-anchor="end">musc.</text>
<text x="1902.2" y="936.8" font-size="29" text-anchor="middle">LP</text>
<text x="1941.4" y="936.8" font-size="29" text-anchor="middle">IE</text>
<text x="1980.3" y="936.8" font-size="29" text-anchor="middle">LP</text>
<text x="2020.0" y="936.8" font-size="29" text-anchor="middle">IE</text>
<line x1="1886.2" y1="946.9" x2="1956.4" y2="946.9" stroke="#444" stroke-width="1.5" />
<line x1="1964.3" y1="946.9" x2="2036.0" y2="946.9" stroke="#444" stroke-width="1.5" />
<text x="1921.8" y="973.5" font-size="29" text-anchor="middle">crypt</text>
<text x="2002.2" y="973.5" font-size="29" text-anchor="middle">top</text>
<text x="1942.0" y="663.7" font-size="29" text-anchor="middle">pseudo-<tspan font-style="italic">Neurog3</tspan></text>
<text x="1942.0" y="690.8" font-size="29" text-anchor="middle">sg<tspan font-style="italic">Thy1</tspan></text>
<text transform="translate(1206.6,816.8) rotate(-90)" font-size="29" text-anchor="middle">pseudogene</text>
<text transform="translate(1233,816.8) rotate(-90)" font-size="29" text-anchor="middle">barcode</text>
<text transform="translate(1259,816.8) rotate(-90)" font-size="29" text-anchor="middle">expression</text>
</svg>
</body></html>
